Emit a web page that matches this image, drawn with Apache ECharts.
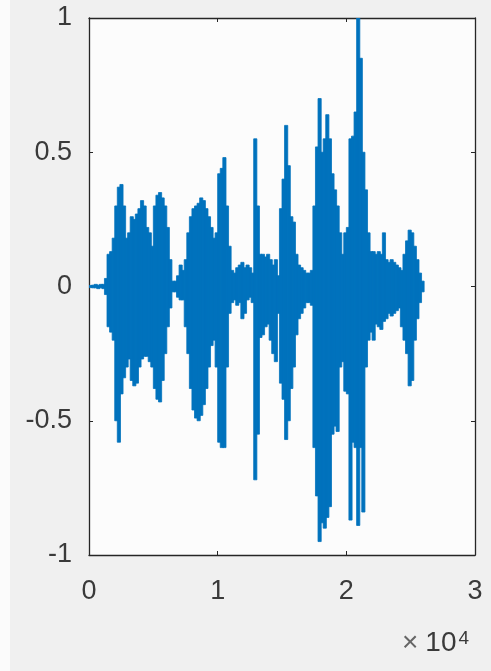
<!DOCTYPE html>
<html>
<head>
<meta charset="utf-8">
<style>
    html, body { margin: 0; padding: 0; background: #f0f0f0; }
    #id-div-chart { width: 491px; height: 671px; }
</style>
<script src="https://cdn.jsdelivr.net/npm/echarts@6/dist/echarts.min.js"></script>
</head>
<body>
<div id="id-div-chart"></div>
<script>
var log = console.log.bind(console)

var e = (selector) => document.querySelector(selector)

// one bin = 200 samples
var binStep = 200
// upper envelope of the waveform, one value per bin
var upper = [
    0.004, 0.005, 0.008, 0.005, 0.008, 0.008, 0.03, 0.12, 0.13, 0.18,
    0.30, 0.37, 0.38, 0.30, 0.18, 0.20, 0.26, 0.25, 0.27, 0.29,
    0.32, 0.30, 0.22, 0.20, 0.15, 0.30, 0.34, 0.35, 0.33, 0.30,
    0.22, 0.10, 0.02, 0.02, 0.04, 0.08, 0.06, 0.10, 0.20, 0.26,
    0.29, 0.30, 0.31, 0.33, 0.32, 0.29, 0.26, 0.22, 0.18, 0.20,
    0.42, 0.44, 0.48, 0.30, 0.15, 0.06, 0.05, 0.07, 0.08, 0.09,
    0.07, 0.08, 0.07, 0.05, 0.55, 0.30, 0.12, 0.12, 0.11, 0.12,
    0.10, 0.08, 0.10, 0.04, 0.29, 0.40, 0.60, 0.45, 0.26, 0.24,
    0.12, 0.08, 0.07, 0.06, 0.05, 0.05, 0.06, 0.30, 0.52, 0.70,
    0.50, 0.55, 0.64, 0.55, 0.42, 0.36, 0.30, 0.20, 0.12, 0.20,
    0.22, 0.55, 0.56, 0.65, 1.00, 0.85, 0.50, 0.36, 0.20, 0.13,
    0.13, 0.12, 0.13, 0.12, 0.20, 0.10, 0.09, 0.10, 0.09, 0.08,
    0.07, 0.06, 0.12, 0.17, 0.21, 0.20, 0.15, 0.10, 0.05, 0.02,
]
// lower envelope of the waveform, one value per bin
var lower = [
    -0.004, -0.005, -0.005, -0.008, -0.005, -0.008, -0.03, -0.15, -0.17, -0.20,
    -0.50, -0.58, -0.40, -0.34, -0.30, -0.27, -0.35, -0.37, -0.36, -0.30,
    -0.27, -0.26, -0.26, -0.28, -0.30, -0.38, -0.42, -0.43, -0.35, -0.25,
    -0.15, -0.08, -0.02, -0.02, -0.04, -0.05, -0.05, -0.15, -0.25, -0.38,
    -0.46, -0.49, -0.50, -0.48, -0.44, -0.38, -0.30, -0.22, -0.20, -0.30,
    -0.58, -0.60, -0.60, -0.30, -0.10, -0.06, -0.05, -0.07, -0.06, -0.12,
    -0.10, -0.05, -0.04, -0.06, -0.72, -0.55, -0.19, -0.18, -0.15, -0.14,
    -0.20, -0.25, -0.28, -0.10, -0.36, -0.42, -0.57, -0.50, -0.38, -0.30,
    -0.18, -0.12, -0.10, -0.08, -0.06, -0.06, -0.07, -0.60, -0.78, -0.95,
    -0.88, -0.90, -0.86, -0.82, -0.55, -0.52, -0.54, -0.30, -0.28, -0.39,
    -0.40, -0.87, -0.58, -0.60, -0.89, -0.60, -0.84, -0.30, -0.20, -0.17,
    -0.20, -0.14, -0.15, -0.16, -0.13, -0.12, -0.10, -0.11, -0.10, -0.09,
    -0.08, -0.15, -0.20, -0.25, -0.37, -0.35, -0.20, -0.12, -0.06, -0.02,
]
var xTicks = [0, 10000, 20000, 30000]
var yTicks = [-1, -0.5, 0, 0.5, 1]

var waveform = function() {
    // 每个 bin: [起点, 终点, 下包络, 上包络]
    var bins = []
    for (var i = 0; i < upper.length; i++) {
        var s = i * binStep
        bins.push([s, s + binStep, lower[i], upper[i]])
    }
    return bins
}

var renderBin = function(params, api) {
    var a = api.coord([api.value(0), api.value(3)])
    var b = api.coord([api.value(1), api.value(2)])
    return {
        type: 'rect',
        shape: {
            x: a[0],
            y: a[1],
            width: b[0] - a[0] + 0.6,
            height: Math.max(b[1] - a[1], 1.2),
        },
        style: {fill: '#0072bd', stroke: '#0072bd', lineWidth: 0.8},
    }
}

var tickLabel = function(v) {
    return String(v / 10000)
}

var font = 'Liberation Sans, Arial, sans-serif'
var ink = '#3a3a3a'
var axisColor = '#262626'

var boxAxis = function() {
    return {
        axisLine: {show: true, onZero: false, lineStyle: {color: axisColor, width: 1.3}},
        axisTick: {show: true, inside: true, length: 4, lineStyle: {color: axisColor}},
        splitLine: {show: false},
    }
}

var option = {
    backgroundColor: '#f0f0f0',
    animation: false,
    grid: {
        left: 89,
        right: 16,
        top: 18,
        bottom: 116,
        show: true,
        backgroundColor: '#fcfcfc',
        borderWidth: 0,
    },
    graphic: [
        {
            type: 'rect',
            shape: {x: 0, y: 0, width: 10, height: 671},
            style: {fill: '#fbfbfb'},
            silent: true,
        },
        {
            type: 'text',
            left: 402,
            top: 629,
            style: {
                text: '{a|×}{b|10}{c|4}',
                rich: {
                    a: {fontSize: 28, fontFamily: font, fill: '#666', verticalAlign: 'bottom', padding: [0, 7, 0, 0]},
                    b: {fontSize: 28, fontFamily: font, fill: ink, verticalAlign: 'bottom', padding: [0, 2, 0, 0]},
                    c: {fontSize: 19, fontFamily: font, fill: ink, verticalAlign: 'top'},
                },
            },
            silent: true,
        },
    ],
    xAxis: [
        Object.assign(boxAxis(), {
            type: 'value',
            min: xTicks[0],
            max: xTicks[xTicks.length - 1],
            interval: xTicks[1] - xTicks[0],
            axisLabel: {
                margin: 23,
                fontSize: 27,
                fontFamily: font,
                color: ink,
                formatter: tickLabel,
                showMinLabel: true,
                showMaxLabel: true,
            },
        }),
        Object.assign(boxAxis(), {
            type: 'value',
            position: 'top',
            min: xTicks[0],
            max: xTicks[xTicks.length - 1],
            interval: xTicks[1] - xTicks[0],
            axisLabel: {show: false},
        }),
    ],
    yAxis: [
        Object.assign(boxAxis(), {
            type: 'value',
            min: yTicks[0],
            max: yTicks[yTicks.length - 1],
            interval: yTicks[1] - yTicks[0],
            axisLabel: {
                margin: 17,
                fontSize: 27,
                fontFamily: font,
                color: ink,
                padding: [8, 0, 0, 0],
                showMinLabel: true,
                showMaxLabel: true,
            },
        }),
        Object.assign(boxAxis(), {
            type: 'value',
            position: 'right',
            min: yTicks[0],
            max: yTicks[yTicks.length - 1],
            interval: yTicks[1] - yTicks[0],
            axisLabel: {show: false},
        }),
    ],
    series: [
        {
            type: 'custom',
            renderItem: renderBin,
            data: waveform(),
            encode: {x: [0, 1], y: [2, 3]},
            xAxisIndex: 0,
            yAxisIndex: 0,
            clip: true,
            z: 3,
        },
    ],
}

var __main = function() {
    var chart = echarts.init(e('#id-div-chart'))
    chart.setOption(option)
}

__main()
</script>
</body>
</html>
